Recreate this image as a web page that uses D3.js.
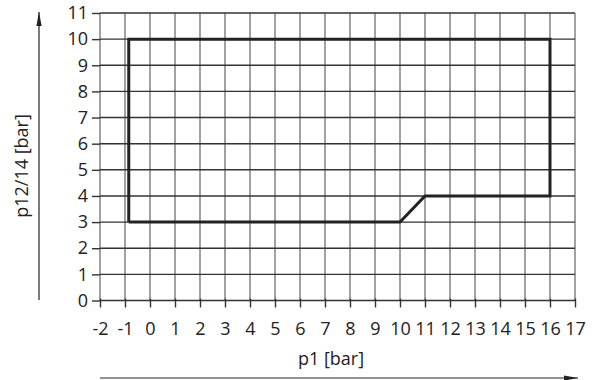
<!DOCTYPE html>
<html><head><meta charset="utf-8">
<script src="https://cdn.jsdelivr.net/npm/d3@7"></script>
<style>body{margin:0;background:#fff}svg{display:block}text{font-family:"Open Sans","Noto Sans",sans-serif;fill:#222}</style>
</head><body>
<svg id="c" width="594" height="380"></svg>
<script>
const xTicks = [-2,-1,0,1,2,3,4,5,6,7,8,9,10,11,12,13,14,15,16,17];
const yTicks = [0,1,2,3,4,5,6,7,8,9,10,11];
const boundaryP1 = [-0.85,-0.85,16,16,11,10,-0.85];
const boundaryP12 = [3,10,10,4,4,3,3];
const xLabel = "p1 [bar]";
const yLabel = "p12/14 [bar]";

const svg = d3.select("#c");
const x = d3.scaleLinear().domain([-2,17]).range([100,575]);
const y = d3.scaleLinear().domain([0,11]).range([300.5,13]);
const FS = 18;

svg.append("defs").append("marker").attr("id","ah").attr("viewBox","0 0 16 8")
  .attr("refX",16).attr("refY",4).attr("markerWidth",16).attr("markerHeight",7)
  .attr("orient","auto").attr("markerUnits","userSpaceOnUse")
  .append("path").attr("d","M0,1 L16,4 L0,7 Z").attr("fill","#222");

// grid
svg.append("g").selectAll("line").data(xTicks).join("line")
  .attr("x1",d=>x(d)).attr("x2",d=>x(d)).attr("y1",y(11)).attr("y2",y(0))
  .attr("stroke","#7a7a7a").attr("stroke-width",1.4);
svg.append("g").selectAll("line").data(yTicks).join("line")
  .attr("x1",x(-2)).attr("x2",x(17)).attr("y1",d=>y(d)).attr("y2",d=>y(d))
  .attr("stroke","#333").attr("stroke-width",1.4);

// axes
const xa = svg.append("g").attr("transform",`translate(0,${y(0)})`)
  .call(d3.axisBottom(x).tickValues(xTicks).tickSize(7).tickPadding(15).tickFormat(d3.format("d")));
xa.select(".domain").remove();
xa.selectAll("line").attr("stroke","#333").attr("stroke-width",1.4).attr("y1",-2);
xa.selectAll("text").attr("font-size",FS).attr("fill","#222")
  .text(d=>d<0?"-"+Math.abs(d):d);
const ya = svg.append("g").attr("transform",`translate(${x(-2)},0)`)
  .call(d3.axisLeft(y).tickValues(yTicks).tickSize(8).tickPadding(4).tickFormat(d3.format("d")));
ya.select(".domain").remove();
ya.selectAll("line").attr("stroke","#333").attr("stroke-width",1.4);
ya.selectAll("text").attr("font-size",FS).attr("fill","#222");

// boundary
const pts = boundaryP1.map((v,i)=>[v,boundaryP12[i]]);
svg.append("path").datum(pts)
  .attr("d",d3.line().x(d=>x(d[0])).y(d=>y(d[1])))
  .attr("fill","none").attr("stroke","#222").attr("stroke-width",3).attr("stroke-linejoin","miter");

// labels and arrows
svg.append("text").attr("x",331).attr("y",365).attr("text-anchor","middle").attr("font-size",FS).text(xLabel);
svg.append("line").attr("x1",100).attr("x2",578).attr("y1",378).attr("y2",378)
  .attr("stroke","#222").attr("stroke-width",1.2).attr("marker-end","url(#ah)");
svg.append("text").attr("transform","translate(28,166) rotate(-90)").attr("text-anchor","middle").attr("font-size",FS).text(yLabel);
svg.append("line").attr("x1",39).attr("x2",39).attr("y1",300).attr("y2",12)
  .attr("stroke","#222").attr("stroke-width",1.2).attr("marker-end","url(#ah)");
</script>
</body></html>
